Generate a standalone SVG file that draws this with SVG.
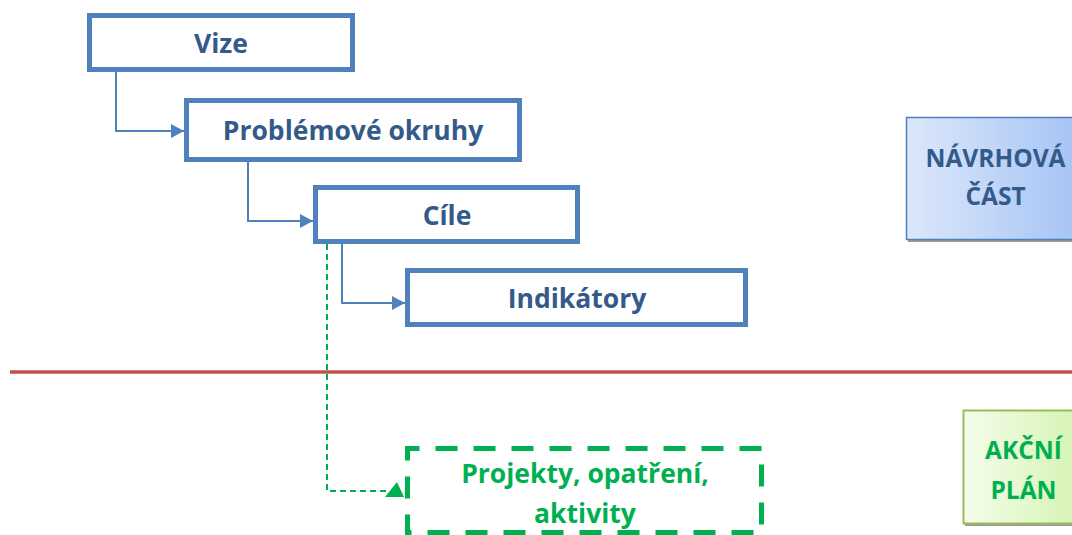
<svg xmlns="http://www.w3.org/2000/svg" width="1072" height="535" viewBox="0 0 1072 535">
<defs>
<style>
.box{fill:#fff;stroke:#4F81BD;stroke-width:5}
.t{font-family:"Open Sans","Liberation Sans",sans-serif;font-weight:bold;font-size:26.5px;text-anchor:middle}
.side{font-size:24.5px}
.blue{fill:#345A8A}
.green{fill:#00B050}
.conn{fill:none;stroke:#4F81BD;stroke-width:2}
.dconn{fill:none;stroke:#00B050;stroke-width:2;stroke-dasharray:6,4}
</style>
<marker id="ab" viewBox="0 0 13 14" refX="13" refY="7" markerWidth="13" markerHeight="14" markerUnits="userSpaceOnUse" orient="auto">
<path d="M0,0 L13,7 L0,14 z" fill="#4F81BD"/>
</marker>
<linearGradient id="gb" x1="0" y1="0" x2="1" y2="0">
<stop offset="0" stop-color="#DCE8FB"/>
<stop offset="1" stop-color="#A6C4F4"/>
</linearGradient>
<linearGradient id="gg" x1="0" y1="0" x2="1" y2="0">
<stop offset="0" stop-color="#F4FDEC"/>
<stop offset="1" stop-color="#D6F4B4"/>
</linearGradient>
</defs>
<line x1="10" y1="372" x2="1072" y2="372" stroke="#C0504D" stroke-width="3.5"/>
<g id="connectors">
<path class="conn" d="M116,72 V131 H184" marker-end="url(#ab)"/>
<path class="conn" d="M248,162 V221 H313" marker-end="url(#ab)"/>
<path class="conn" d="M342,244 V303 H405" marker-end="url(#ab)"/>
<path class="dconn" d="M327,244 V491 H390"/>
<path d="M385,497 L397,482 L404,497 z" fill="#00B050"/>
</g>
<g id="vize">
<rect class="box" x="89.5" y="15.5" width="263" height="54"/>
<text class="t blue" x="221" y="53">Vize</text>
</g>
<g id="problemove-okruhy">
<rect class="box" x="186.5" y="100.5" width="333" height="59"/>
<text class="t blue" x="353" y="140">Problémové okruhy</text>
</g>
<g id="cile">
<rect class="box" x="315.5" y="187.5" width="262" height="54"/>
<text class="t blue" x="447" y="225">Cíle</text>
</g>
<g id="indikatory">
<rect class="box" x="407.5" y="270.5" width="338" height="54"/>
<text class="t blue" x="577" y="308">Indikátory</text>
</g>
<g id="projekty">
<rect x="407.5" y="448.5" width="354" height="84" fill="#fff" stroke="#00B050" stroke-width="5" stroke-dasharray="22,16" stroke-dashoffset="10"/>
<text class="t green" x="585" y="483">Projekty, opatření,</text>
<text class="t green" x="585" y="523">aktivity</text>
</g>
<g id="navrhova-cast">
<rect x="908" y="119" width="170" height="123" fill="#9A9A9A"/>
<rect x="906.5" y="117.5" width="170" height="122" fill="url(#gb)" stroke="#4F81BD" stroke-width="1.5"/>
<text class="t side blue" x="995.5" y="167">NÁVRHOVÁ</text>
<text class="t side blue" x="995.5" y="205">ČÁST</text>
</g>
<g id="akcni-plan">
<rect x="965" y="412" width="110" height="114" fill="#9A9A9A"/>
<rect x="963.5" y="410.5" width="112" height="113" fill="url(#gg)" stroke="#9BBB59" stroke-width="2"/>
<text class="t side green" x="1023.5" y="459">AKČNÍ</text>
<text class="t side green" x="1023.5" y="499">PLÁN</text>
</g>
</svg>
